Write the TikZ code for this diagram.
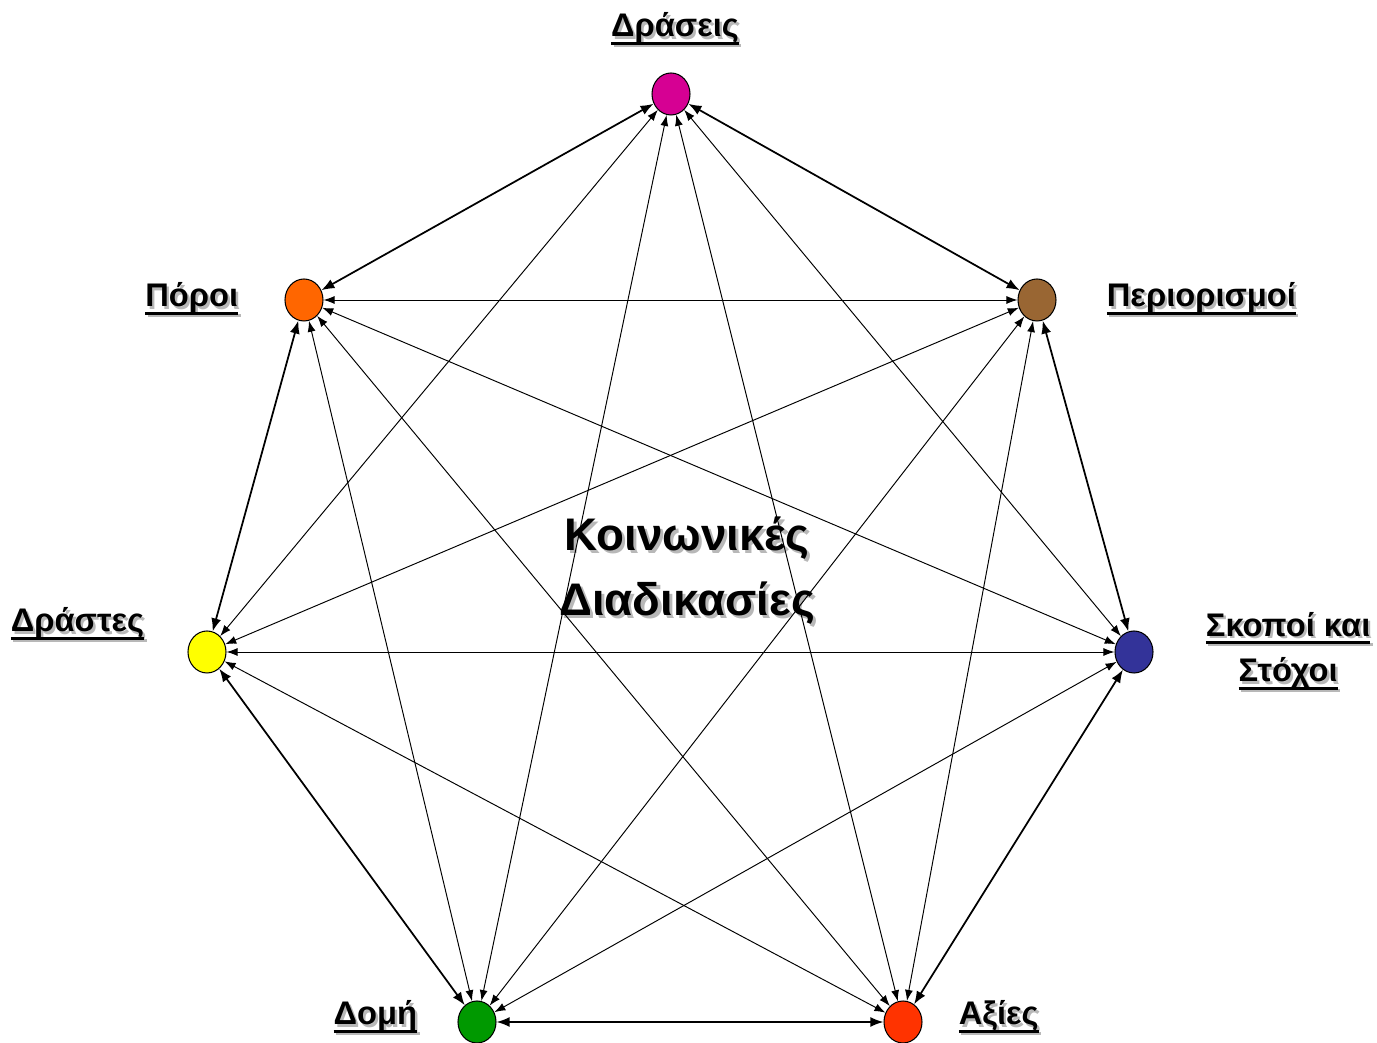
\documentclass[tikz,border=0pt]{standalone}
\usepackage{fontspec}
\setmainfont{Liberation Sans}
\usetikzlibrary{arrows.meta,shapes.geometric,positioning}

\definecolor{cDras}{RGB}{214,0,147}
\definecolor{cPeri}{RGB}{153,102,51}
\definecolor{cSkop}{RGB}{51,51,153}
\definecolor{cAxies}{RGB}{255,51,0}
\definecolor{cDomi}{RGB}{0,153,0}
\definecolor{cDrastes}{RGB}{255,255,0}
\definecolor{cPoroi}{RGB}{255,102,0}

\newsavebox{\lblbox}
\newcommand{\uln}[1]{\sbox{\lblbox}{#1}\rlap{\rule[-4.5pt]{\wd\lblbox}{1.7pt}}\usebox{\lblbox}}
\newcommand{\shd}[2][1.4pt]{\leavevmode\rlap{\kern#1\raisebox{-#1}{\textcolor{black!28}{#2}}}#2}
\newcommand{\lbltext}[1]{\shd{\uln{#1}}}

\tikzset{
  vertex/.style={shape=ellipse, draw=black, line width=0.6pt,
                 minimum width=0.76cm, minimum height=0.84cm, inner sep=0pt},
  lbl/.style={font=\fontsize{18.6}{26}\selectfont\bfseries, inner sep=0pt, align=center},
  rim/.style={<->, line width=1pt, >={Latex[length=0.26cm,width=0.2cm]}},
  chord/.style={<->, line width=0.55pt},
  >={Latex[length=0.22cm,width=0.16cm]}
}

\begin{document}
\begin{tikzpicture}
  \useasboundingbox (0,0) rectangle (27.54,20.84);

  \node[vertex, fill=cDras] (dras) at (13.42,18.96) {};
  \node[vertex, fill=cPeri] (peri) at (20.74,14.84) {};
  \node[vertex, fill=cSkop] (skop) at (22.68,7.80) {};
  \node[vertex, fill=cAxies] (axies) at (18.06,0.40) {};
  \node[vertex, fill=cDomi] (domi) at (9.54,0.40) {};
  \node[vertex, fill=cDrastes] (drastes) at (4.14,7.80) {};
  \node[vertex, fill=cPoroi] (poroi) at (6.08,14.84) {};

  \node[lbl] (lDras) [above=0.5cm of dras, xshift=0.08cm] {\lbltext{Δράσεις}};
  \node[lbl] (lPeri) [right=1.0cm of peri] {\lbltext{Περιορισμοί}};
  \node[lbl] (lSkop) [right=1.04cm of skop] {\lbltext{Σκοποί και}\\\lbltext{Στόχοι}};
  \node[lbl] (lAxies) [right=0.72cm of axies, yshift=0.08cm] {\lbltext{Αξίες}};
  \node[lbl] (lDomi) [left=0.8cm of domi, yshift=0.08cm] {\lbltext{Δομή}};
  \node[lbl] (lDrastes) [left=0.86cm of drastes, yshift=0.54cm] {\lbltext{Δράστες}};
  \node[lbl] (lPoroi) [left=0.92cm of poroi] {\lbltext{Πόροι}};

  \node[font=\fontsize{26}{37}\selectfont\bfseries, align=center] (title) at (13.74,9.40)
       {\shd[1.8pt]{Κοινωνικές}\\\shd[1.8pt]{Διαδικασίες}};

  % outer ring
  \path[rim] (dras) edge (peri) edge (poroi);
  \path[rim] (skop) edge (peri) edge (axies);
  \path[rim] (domi) edge (axies) edge (drastes);
  \path[rim] (poroi) edge (drastes);

  % inner links
  \foreach \a/\b in {dras/skop, dras/axies, dras/domi, dras/drastes,
                     peri/axies, peri/domi, peri/drastes, peri/poroi,
                     skop/domi, skop/drastes, skop/poroi,
                     axies/drastes, axies/poroi, domi/poroi}
    \path[chord] (\a) edge (\b);
\end{tikzpicture}
\end{document}
